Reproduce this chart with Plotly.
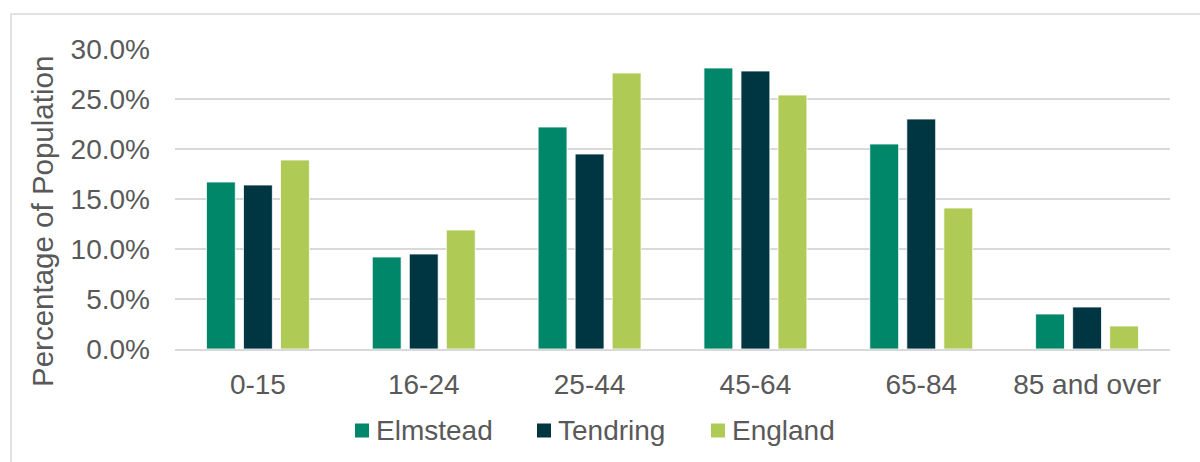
import plotly.graph_objects as go

# Age bands and share of population (%) in each area
age_bands = ["0-15", "16-24", "25-44", "45-64", "65-84", "85 and over"]
elmstead = [16.7, 9.2, 22.2, 28.1, 20.5, 3.5]
tendring = [16.4, 9.5, 19.5, 27.8, 23.0, 4.2]
england = [18.9, 11.9, 27.6, 25.4, 14.1, 2.3]

series_names = ["Elmstead", "Tendring", "England"]
series_values = [elmstead, tendring, england]
series_colors = ["#00876A", "#003641", "#B0CB55"]

y_ticks = [0, 5, 10, 15, 20, 25, 30]
y_tick_labels = [f"{v:.1f}%" for v in y_ticks]

W, H = 1200, 462
PLOT_L, PLOT_R, PLOT_T, PLOT_B = 175, 1170, 49, 349
FONT = "Arial, Liberation Sans, sans-serif"
TEXT_COLOR = "#595959"
GRID_COLOR = "#D9D9D9"


def px_x(px):
    return (px - PLOT_L) / (PLOT_R - PLOT_L)


def px_y(py):
    return (PLOT_B - py) / (PLOT_B - PLOT_T)


fig = go.Figure()
for name, vals, col in zip(series_names, series_values, series_colors):
    fig.add_trace(go.Bar(
        x=age_bands, y=vals, name=name,
        marker=dict(color=col, line=dict(color="white", width=0.8)),
        showlegend=False,
    ))

fig.update_layout(
    width=W, height=H,
    margin=dict(l=PLOT_L, r=W - PLOT_R, t=PLOT_T, b=H - PLOT_B),
    paper_bgcolor="white", plot_bgcolor="white",
    barmode="group", bargap=0.33, bargroupgap=0.22,
    font=dict(family=FONT, size=28, color=TEXT_COLOR),
)

fig.update_xaxes(
    showgrid=False, showline=True, linecolor=GRID_COLOR, linewidth=2,
    ticks="", ticklabelstandoff=9,
    tickfont=dict(family=FONT, size=28, color=TEXT_COLOR),
)
fig.update_yaxes(
    range=[0, 30], tickmode="array", tickvals=y_ticks, ticktext=y_tick_labels,
    showgrid=True, gridcolor=GRID_COLOR, gridwidth=2,
    zeroline=False, showline=False, ticks="", ticklabelstandoff=24,
    tickfont=dict(family=FONT, size=28, color=TEXT_COLOR),
)

# Chart frame (left and top edges visible)
fig.add_shape(
    type="rect", xref="paper", yref="paper",
    x0=px_x(11), x1=px_x(1215), y0=px_y(480), y1=px_y(14),
    line=dict(color=GRID_COLOR, width=1.5), fillcolor="rgba(0,0,0,0)",
    layer="below",
)

# Y-axis title
fig.add_annotation(
    text="Percentage of Population", textangle=-90,
    xref="paper", yref="paper", x=px_x(42), y=px_y(222),
    xanchor="center", yanchor="middle", showarrow=False,
    font=dict(family=FONT, size=29.5, color=TEXT_COLOR),
)

# Legend: coloured squares with series names
legend_sq_left = [355, 537, 711]
legend_cy = 430.5
for name, col, sx in zip(series_names, series_colors, legend_sq_left):
    fig.add_shape(
        type="rect", xref="paper", yref="paper",
        x0=px_x(sx), x1=px_x(sx + 14), y0=px_y(legend_cy + 7), y1=px_y(legend_cy - 7),
        line=dict(width=0), fillcolor=col,
    )
    fig.add_annotation(
        text=name, xref="paper", yref="paper",
        x=px_x(sx + 19), y=px_y(legend_cy),
        xanchor="left", yanchor="middle", showarrow=False,
        font=dict(family=FONT, size=28, color=TEXT_COLOR),
    )

fig.write_html("out.html")
